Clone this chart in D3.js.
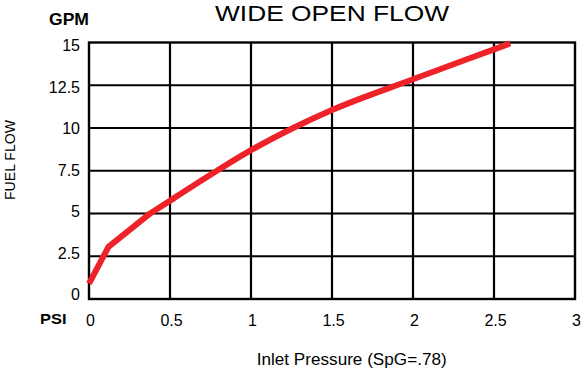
<!DOCTYPE html>
<html><head><meta charset="utf-8">
<script src="https://cdn.jsdelivr.net/npm/d3@7"></script>
<style>
body{margin:0;background:#fff}
svg{display:block}
text{font-family:"Liberation Sans",Arial,Helvetica,sans-serif;fill:#000}
</style></head>
<body><svg id="c" width="581" height="368"></svg>
<script>
const pressure = [0, 0.12, 0.37, 0.5, 0.79, 1, 1.26, 1.5, 2, 2.5, 2.6];
const flow     = [0.9, 3.05, 4.95, 5.75, 7.5, 8.7, 10, 11.05, 12.85, 14.6, 14.95];
const xTicks = [0, 0.5, 1, 1.5, 2, 2.5, 3];
const yTicks = [0, 2.5, 5, 7.5, 10, 12.5, 15];
const xTickLabels = ["0", "0.5", "1", "1.5", "2", "2.5", "3"];
const yTickLabels = ["0", "2.5", "5", "7.5", "10", "12.5", "15"];
const title = "WIDE OPEN FLOW";
const xTitle = "Inlet Pressure (SpG=.78)";
const yTitle = "FUEL FLOW";

const svg = d3.select("#c");
const x = d3.scaleLinear().domain([0, 3]).range([89, 575]);
const y = d3.scaleLinear().domain([0, 15]).range([299, 42.5]);
const yLab = d3.scaleLinear().domain([0, 15]).range([294.5, 45.5]);

// grid
const g = svg.append("g");
g.selectAll(".vg").data(xTicks.slice(1, -1)).join("line")
  .attr("x1", d => x(d)).attr("x2", d => x(d))
  .attr("y1", y(15)).attr("y2", y(0))
  .attr("stroke", "#000").attr("stroke-width", 2.2);
g.selectAll(".hg").data(yTicks.slice(1, -1)).join("line")
  .attr("x1", x(0)).attr("x2", x(3))
  .attr("y1", d => y(d)).attr("y2", d => y(d))
  .attr("stroke", "#000").attr("stroke-width", 2.2);
g.append("rect")
  .attr("x", x(0)).attr("y", y(15))
  .attr("width", x(3) - x(0)).attr("height", y(0) - y(15))
  .attr("fill", "none").attr("stroke", "#000").attr("stroke-width", 2.4);

// curve: straight start up to the kink, smooth afterwards
const pts = pressure.map((p, i) => [p, flow[i]]);
const lineLin = d3.line().x(d => x(d[0])).y(d => y(d[1])).curve(d3.curveLinear);
const lineSmooth = d3.line().x(d => x(d[0])).y(d => y(d[1])).curve(d3.curveMonotoneX);
svg.append("path").datum(pts.slice(0, 3))
  .attr("d", lineLin)
  .attr("fill", "none").attr("stroke", "#ee2229").attr("stroke-width", 6)
  .attr("stroke-linejoin", "round").attr("stroke-linecap", "butt");
svg.append("path").datum(pts.slice(2))
  .attr("d", lineSmooth)
  .attr("fill", "none").attr("stroke", "#ee2229").attr("stroke-width", 6)
  .attr("stroke-linejoin", "round").attr("stroke-linecap", "butt");
svg.append("circle").attr("cx", x(pts[2][0])).attr("cy", y(pts[2][1])).attr("r", 3).attr("fill", "#ee2229");

// y tick labels
svg.selectAll(".yl").data(yTicks).join("text")
  .attr("x", 80).attr("y", d => yLab(d)).attr("dy", "0.36em")
  .attr("text-anchor", "end").attr("font-size", 16)
  .text((d, i) => yTickLabels[i]);

// x tick labels
svg.selectAll(".xl").data(xTicks).join("text")
  .attr("x", d => x(d) + 1.5).attr("y", 325.5)
  .attr("text-anchor", "middle").attr("font-size", 16)
  .text((d, i) => xTickLabels[i]);

// units
svg.append("text").attr("x", 49).attr("y", 25).attr("font-size", 16.5)
  .attr("font-weight", "bold").attr("textLength", 40).attr("lengthAdjust", "spacingAndGlyphs").text("GPM");
svg.append("text").attr("x", 40).attr("y", 324).attr("font-size", 15.5)
  .attr("font-weight", "bold").attr("textLength", 26.5).attr("lengthAdjust", "spacingAndGlyphs").text("PSI");

// titles
svg.append("text").attr("x", 215).attr("y", 20.5).attr("font-size", 22)
  .attr("textLength", 234).attr("lengthAdjust", "spacingAndGlyphs").text(title);
svg.append("text").attr("x", 256.7).attr("y", 365).attr("font-size", 16.5)
  .attr("textLength", 190).attr("lengthAdjust", "spacingAndGlyphs").text(xTitle);
svg.append("text").attr("transform", "translate(15,200) rotate(-90)")
  .attr("font-size", 15.5).attr("textLength", 80).attr("lengthAdjust", "spacingAndGlyphs").text(yTitle);
</script></body></html>
